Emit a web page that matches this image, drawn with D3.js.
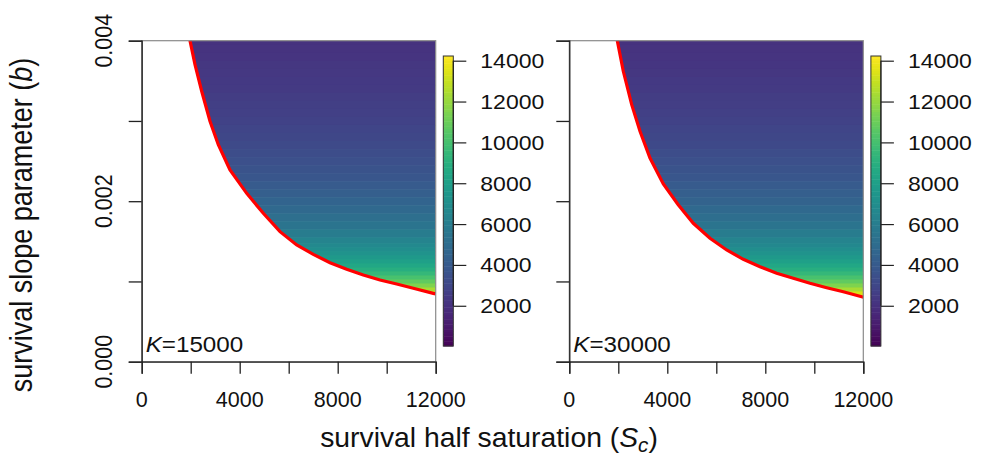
<!DOCTYPE html>
<html>
<head>
<meta charset="utf-8">
<script src="https://d3js.org/d3.v7.min.js"></script>
<style>
  body { margin: 0; background: #fff; }
  svg text { font-family: "Liberation Sans", Arial, Helvetica, sans-serif; fill: #111; }
</style>
</head>
<body>
<script>
// axis ticks and labels
var xTicks = [0, 2000, 4000, 6000, 8000, 10000, 12000];
var xTickLabels = [0, 4000, 8000, 12000];
var yTicks = [0, 0.001, 0.002, 0.003, 0.004];
var yTickLabels = [0, 0.002, 0.004];
var legendTicks = [2000, 4000, 6000, 8000, 10000, 12000, 14000];
var legendRange = [30, 14230];

// red boundary (Sc, b)
var boundaryK15 = [[1971, 0.004], [2176, 0.003701], [2449, 0.00337], [2788, 0.002996], [3127, 0.002704],
  [3535, 0.002435], [3604, 0.002389], [4286, 0.002098], [4963, 0.001849], [5645, 0.00162], [6327, 0.001454],
  [7004, 0.001338], [7686, 0.001234], [8367, 0.001151], [9045, 0.00108], [9727, 0.001018], [10408, 0.000968],
  [11086, 0.000915], [11902, 0.000852], [12000, 0.000845]];
var boundaryK30 = [[1959, 0.004], [2204, 0.003619], [2547, 0.003203], [2886, 0.002871], [3294, 0.002538],
  [3837, 0.002214], [4437, 0.001959], [5061, 0.001725], [5743, 0.001538], [6424, 0.001392], [7102, 0.001276],
  [7784, 0.001184], [8465, 0.001102], [9143, 0.001039], [9824, 0.000977], [10506, 0.000922], [11184, 0.000872],
  [11935, 0.00081], [12000, 0.000805]];

// heat map rows: b level and value
var bRows = [0.004, 0.0039, 0.0038, 0.0037, 0.0036, 0.0035, 0.0034, 0.0033, 0.0032, 0.0031, 0.003,
  0.0029, 0.0028, 0.0027, 0.0026, 0.0025, 0.0024, 0.0023, 0.0022, 0.0021, 0.002, 0.0019, 0.0018,
  0.0017, 0.0016, 0.0015, 0.00145, 0.0014, 0.00135, 0.0013, 0.00125, 0.0012, 0.00115, 0.0011,
  0.00105, 0.001, 0.00095, 0.0009, 0.00085, 0.0008];
var heatK15 = [2080, 2130, 2190, 2250, 2320, 2400, 2470, 2560, 2640, 2740, 2840, 2950, 3070, 3200,
  3340, 3490, 3660, 3850, 4050, 4280, 4540, 4830, 5150, 5520, 5950, 6430, 6700, 7000, 7320, 7680,
  8060, 8480, 8950, 9480, 10080, 10750, 11500, 12350, 13300, 14200];
var heatK30 = [2060, 2110, 2170, 2230, 2300, 2380, 2450, 2540, 2620, 2720, 2820, 2930, 3050, 3180,
  3320, 3470, 3640, 3830, 4030, 4260, 4520, 4810, 5130, 5500, 5930, 6410, 6680, 6980, 7300, 7660,
  8040, 8470, 8940, 9470, 10070, 10750, 11500, 12380, 13350, 14230];

var panels = [
  { left: 141.7, K: "15000", boundary: boundaryK15, heat: heatK15, yLabels: true },
  { left: 569.3, K: "30000", boundary: boundaryK30, heat: heatK30, yLabels: false }
];

var width = 986, height = 457;
var plotW = 294, plotTop = 40.7, plotBottom = 361.7;

var svg = d3.select("body").append("svg")
  .attr("width", width).attr("height", height);
svg.append("rect").attr("width", width).attr("height", height).attr("fill", "#fff");

var color = d3.scaleSequential(d3.interpolateViridis).domain(legendRange);
var y = d3.scaleLinear().domain([0, 0.004]).range([plotBottom, plotTop]);

// small helper for stretched text
function label(g, x, yy, size, sx, anchor, rot) {
  return g.append("text")
    .attr("transform", "translate(" + x + "," + yy + ") scale(" + sx + ",1)" + (rot ? " rotate(" + rot + ")" : ""))
    .attr("text-anchor", anchor)
    .style("font-size", size + "px");
}

panels.forEach(function (p, pi) {
  var x = d3.scaleLinear().domain([0, 12000]).range([p.left, p.left + plotW]);
  var g = svg.append("g");

  // clip: area above the boundary
  var clipId = "clip" + pi;
  var poly = p.boundary.slice();
  poly.push([12000, 0.004]);
  g.append("clipPath").attr("id", clipId)
    .append("path")
    .attr("d", d3.line().x(function (d) { return x(d[0]); }).y(function (d) { return y(d[1]); })(poly) + "Z");

  // heat rows
  var rowEdges = bRows.map(function (b, i) {
    var up = i === 0 ? 0.0041 : (b + bRows[i - 1]) / 2;
    var dn = i === bRows.length - 1 ? 0.0007 : (b + bRows[i + 1]) / 2;
    return { up: up, dn: dn, v: p.heat[i] };
  });
  g.append("g").attr("clip-path", "url(#" + clipId + ")")
    .selectAll("rect").data(rowEdges).enter().append("rect")
    .attr("x", x(0)).attr("width", plotW)
    .attr("y", function (d) { return y(d.up); })
    .attr("height", function (d) { return y(d.dn) - y(d.up) + 0.6; })
    .attr("fill", function (d) { return color(d.v); });

  // red boundary line
  g.append("path")
    .datum(p.boundary)
    .attr("fill", "none").attr("stroke", "#ff0000").attr("stroke-width", 3.2)
    .attr("d", d3.line().x(function (d) { return x(d[0]); }).y(function (d) { return y(d[1]); }));

  // frame
  g.append("rect")
    .attr("x", p.left).attr("y", plotTop).attr("width", plotW).attr("height", plotBottom - plotTop)
    .attr("fill", "none").attr("stroke", "#8a8a8a").attr("stroke-width", 1.2);

  // x axis
  var xa = g.append("g").attr("transform", "translate(0," + plotBottom + ")")
    .call(d3.axisBottom(x).tickValues(xTicks).tickSize(12).tickFormat(""));
  xa.select(".domain").attr("stroke", "#222").attr("stroke-width", 1.3);
  xa.selectAll(".tick line").attr("stroke", "#222").attr("stroke-width", 1.3);
  xTickLabels.forEach(function (t) {
    label(g, x(t), 407, 21.5, 1, "middle").text(t);
  });

  // y axis
  var ya = g.append("g").attr("transform", "translate(" + p.left + ",0)")
    .call(d3.axisLeft(y).tickValues(yTicks).tickSize(13).tickFormat(""));
  ya.select(".domain").attr("stroke", "#222").attr("stroke-width", 1.3);
  ya.selectAll(".tick line").attr("stroke", "#222").attr("stroke-width", 1.3);
  if (p.yLabels) {
    yTickLabels.forEach(function (t) {
      label(g, 111.5, y(t), 21.5, 1.1, "middle", -90).text(d3.format(".3f")(t));
    });
  }

  // K label
  var kt = label(g, p.left + 4, 352, 22, 1.1, "start");
  kt.append("tspan").style("font-style", "italic").text("K");
  kt.append("tspan").text("=" + p.K);

  // colour bar
  var cbX = p.left + 301.6, cbW = 10;
  var cy = d3.scaleLinear().domain(legendRange).range([346, 56]);
  var steps = d3.range(0, 120).map(function (i) {
    return legendRange[0] + (legendRange[1] - legendRange[0]) * i / 120;
  });
  var dv = (legendRange[1] - legendRange[0]) / 120;
  g.append("g").selectAll("rect").data(steps).enter().append("rect")
    .attr("x", cbX).attr("width", cbW)
    .attr("y", function (d) { return cy(d + dv); })
    .attr("height", function (d) { return cy(d) - cy(d + dv) + 0.5; })
    .attr("fill", function (d) { return color(d + dv / 2); });
  g.append("rect").attr("x", cbX).attr("y", 56).attr("width", cbW).attr("height", 290)
    .attr("fill", "none").attr("stroke", "#333").attr("stroke-width", 1);
  var ca = g.append("g").attr("transform", "translate(" + (cbX + cbW) + ",0)")
    .call(d3.axisRight(cy).tickValues(legendTicks).tickSize(13).tickSizeOuter(0).tickFormat(""));
  ca.select(".domain").attr("stroke", "#222").attr("stroke-width", 1.2)
    .attr("d", "M0," + cy(2000) + "V" + cy(14000));
  ca.selectAll(".tick line").attr("stroke", "#222").attr("stroke-width", 1.2);
  legendTicks.forEach(function (t) {
    label(g, cbX + cbW + 27, cy(t) + 7.5, 20, 1.15, "start").text(t);
  });
});

// axis titles
var xt = label(svg, 489, 447, 27.5, 1.03, "middle");
xt.append("tspan").text("survival half saturation (");
xt.append("tspan").style("font-style", "italic").text("S");
xt.append("tspan").style("font-style", "italic").style("font-size", "20px").attr("dy", 5).text("c");
xt.append("tspan").attr("dy", -5).text(")");

var yt = label(svg, 32, 225, 27, 1.15, "middle", -90);
yt.append("tspan").text("survival slope parameter (");
yt.append("tspan").style("font-style", "italic").text("b");
yt.append("tspan").text(")");
</script>
</body>
</html>
